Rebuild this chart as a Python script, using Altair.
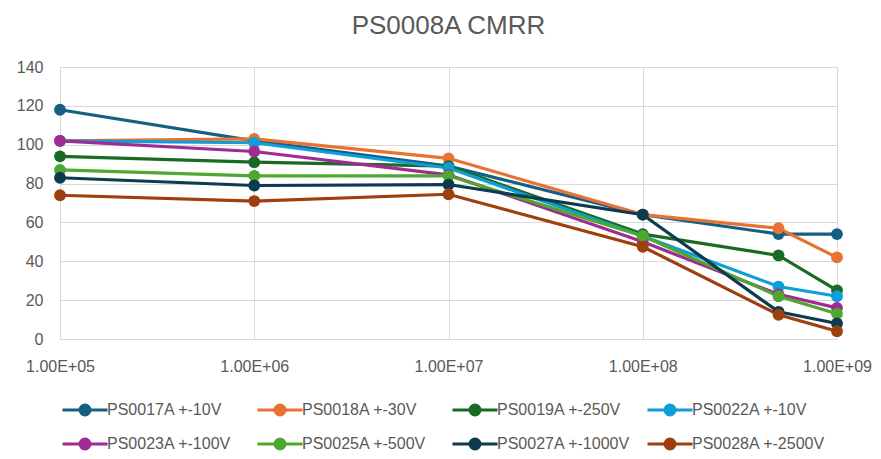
import altair as alt
import pandas as pd

freqs = [1e5, 1e6, 1e7, 1e8, 5e8, 1e9]
series = ["PS0017A +-10V", "PS0018A +-30V", "PS0019A +-250V", "PS0022A +-10V",
          "PS0023A +-100V", "PS0025A +-500V", "PS0027A +-1000V", "PS0028A +-2500V"]
colors = ["#156082", "#E97132", "#196B24", "#0F9ED5",
          "#A02B93", "#4EA72E", "#0D3A4E", "#9E3F0E"]

ps0017 = [118, 102, 89, 64, 54, 54]
ps0018 = [102, 103, 93, 64, 57, 42]
ps0019 = [94, 91, 89, 54, 43, 25]
ps0022 = [102, 101, 88, 53, 27, 22]
ps0023 = [102, 96.5, 84.5, 50, 23, 16]
ps0025 = [87, 84, 84, 53, 22, 13]
ps0027 = [83, 79, 79.5, 64, 14, 8]
ps0028 = [74, 71, 74.5, 47.5, 12.5, 4]

values = [ps0017, ps0018, ps0019, ps0022, ps0023, ps0025, ps0027, ps0028]

rows = []
for name, vals in zip(series, values):
    for f, v in zip(freqs, vals):
        rows.append({"Frequency": f, "CMRR": v, "Series": name})
df = pd.DataFrame(rows)

grid = "#D9D9D9"
txt = "#595959"
font = "Liberation Sans"

legend_path = "M-4.5,0H4.5M1,0A1,1,0,1,1,-1,0A1,1,0,1,1,1,0Z"

x_enc = alt.X("Frequency:Q",
              scale=alt.Scale(type="log", domain=[1e5, 1e9], nice=False),
              axis=alt.Axis(values=[1e5, 1e6, 1e7, 1e8, 1e9],
                            labelExpr="'1.00E+' + (round(log(datum.value)/LN10) < 10 ? '0' : '') + round(log(datum.value)/LN10)",
                            title=None, ticks=False, gridColor=grid, domainColor=grid,
                            labelFontSize=16, labelColor=txt, labelFont=font,
                            labelPadding=19, labelOverlap=False, labelFlush=False,
                            labelBound=False))
y_enc = alt.Y("CMRR:Q",
              scale=alt.Scale(domain=[0, 140], nice=False),
              axis=alt.Axis(values=[0, 20, 40, 60, 80, 100, 120, 140],
                            title=None, ticks=False, domain=False, gridColor=grid,
                            labelFontSize=16, labelColor=txt, labelFont=font,
                            labelPadding=17))
c_enc = alt.Color("Series:N",
                  scale=alt.Scale(domain=series, range=colors),
                  sort=series,
                  legend=alt.Legend(
                      title=None, orient="none", legendX=17, legendY=335,
                      direction="horizontal", columns=4, gridAlign="all",
                      symbolType=legend_path, symbolSize=100, symbolStrokeWidth=3,
                      labelFontSize=16, labelColor=txt, labelFont=font,
                      labelOffset=14, columnPadding=11, rowPadding=12,
                      labelLimit=300))

base = alt.Chart(df).encode(x=x_enc, y=y_enc, color=c_enc, order=alt.Order("Frequency:Q"))
lines = base.mark_line(strokeWidth=3.2)
points = base.mark_point(filled=True, size=140, opacity=1)

chart = alt.layer(lines, points).properties(
    width=777,
    height=272,
    title=alt.TitleParams("PS0008A CMRR", fontSize=26, color=txt, font=font,
                          fontWeight="normal", anchor="middle", offset=20),
    padding={"left": 52, "top": 59, "right": 36, "bottom": 112},
    autosize=alt.AutoSizeParams(type="none"),
).configure_view(stroke=None).configure(background="white")

chart.save("out.html", embed_options={"renderer": "svg", "actions": False})
